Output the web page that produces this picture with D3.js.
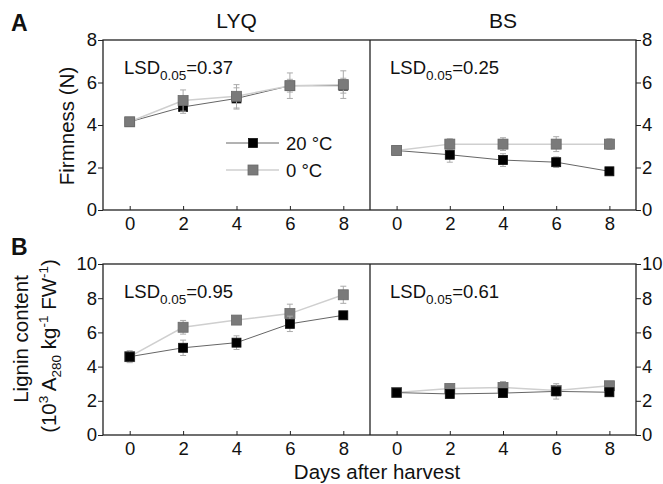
<!DOCTYPE html>
<html>
<head>
<meta charset="utf-8">
<script src="https://cdn.jsdelivr.net/npm/d3@7"></script>
<style>
  body { margin: 0; background: #fff; }
  svg { font-family: "Liberation Sans", Arial, sans-serif; }
  .axis path, .axis line { stroke: #222; }
  .axis text { font-size: 18.5px; fill: #111; font-family: "Liberation Sans", Arial, sans-serif; }
</style>
</head>
<body>
<svg id="chart" width="663" height="484"></svg>
<script>
// Data
const days = [0, 2, 4, 6, 8];
const cultivars = ["LYQ", "BS"];
const seriesNames = ["20 °C", "0 °C"];

const firmTicks = [0, 2, 4, 6, 8];
const ligninTicks = [0, 2, 4, 6, 8, 10];

const firmLSD = ["0.37", "0.25"];
const ligninLSD = ["0.95", "0.61"];

// Firmness (N)
const firmLYQ20 = [4.15, 4.85, 5.25, 5.85, 5.85];
const firmLYQ20Err = [0.1, 0.3, 0.5, 0.3, 0.35];
const firmLYQ0 = [4.15, 5.15, 5.35, 5.85, 5.9];
const firmLYQ0Err = [0.1, 0.5, 0.55, 0.6, 0.65];
const firmBS20 = [2.8, 2.6, 2.35, 2.25, 1.82];
const firmBS20Err = [0.15, 0.35, 0.3, 0.25, 0.1];
const firmBS0 = [2.8, 3.1, 3.1, 3.1, 3.1];
const firmBS0Err = [0.15, 0.25, 0.3, 0.35, 0.25];

// Lignin content
const ligLYQ20 = [4.58, 5.1, 5.4, 6.5, 7.0];
const ligLYQ20Err = [0.35, 0.45, 0.4, 0.45, 0.2];
const ligLYQ0 = [4.58, 6.3, 6.72, 7.1, 8.2];
const ligLYQ0Err = [0.3, 0.4, 0.2, 0.55, 0.5];
const ligBS20 = [2.48, 2.4, 2.45, 2.55, 2.5];
const ligBS20Err = [0.15, 0.2, 0.2, 0.45, 0.2];
const ligBS0 = [2.48, 2.72, 2.78, 2.6, 2.88];
const ligBS0Err = [0.15, 0.25, 0.35, 0.3, 0.2];

// Layout
const left = 103, mid = 370, right = 636;
const svg = d3.select("#chart");

const xLeft = d3.scaleLinear().domain([-1, 9]).range([left, mid]);
const xRight = d3.scaleLinear().domain([-1, 9]).range([mid, right]);

const styles = [
  { line: "#666", lw: 1, fill: "#000", stroke: "#111", size: 9 },
  { line: "#cfcfcf", lw: 1.5, fill: "#7a7a7a", stroke: "#6a6a6a", size: 10 }
];

function drawPanel(top, bottom, yMax, ticks, lsd, data, grayOnTop) {
  const y = d3.scaleLinear().domain([0, yMax]).range([bottom, top]);

  // frame
  svg.append("rect")
    .attr("x", left).attr("y", top)
    .attr("width", right - left).attr("height", bottom - top)
    .attr("fill", "none").attr("stroke", "#222").attr("stroke-width", 1.3);
  svg.append("line")
    .attr("x1", mid).attr("x2", mid).attr("y1", top).attr("y2", bottom)
    .attr("stroke", "#222").attr("stroke-width", 1.3);

  // axes
  [xLeft, xRight].forEach(x => {
    const gx = svg.append("g").attr("class", "axis")
      .attr("transform", `translate(0,${bottom})`)
      .call(d3.axisBottom(x).tickValues(days).tickSizeInner(-4).tickSizeOuter(0).tickPadding(7));
    gx.select(".domain").remove();
  });
  const gl = svg.append("g").attr("class", "axis")
    .attr("transform", `translate(${left},0)`)
    .call(d3.axisLeft(y).tickValues(ticks).tickSize(5).tickPadding(1));
  gl.select(".domain").remove();
  const gr = svg.append("g").attr("class", "axis")
    .attr("transform", `translate(${right},0)`)
    .call(d3.axisRight(y).tickValues(ticks).tickSize(5).tickPadding(1));
  gr.select(".domain").remove();

  // series per cultivar
  [xLeft, xRight].forEach((x, c) => {
    const order = grayOnTop ? [0, 1] : [1, 0];
    const g = svg.append("g");
    // lines
    order.forEach(s => {
      const vals = data[c][s].v;
      g.append("path")
        .datum(days.map((d, i) => [d, vals[i]]))
        .attr("fill", "none")
        .attr("stroke", styles[s].line)
        .attr("stroke-width", styles[s].lw)
        .attr("d", d3.line().x(d => x(d[0])).y(d => y(d[1])));
    });
    order.forEach(s => {
      const vals = data[c][s].v, errs = data[c][s].e, st = styles[s];
      days.forEach((d, i) => {
        const cx = x(d), y1 = y(vals[i] + errs[i]), y2 = y(vals[i] - errs[i]);
        g.append("line").attr("x1", cx).attr("x2", cx).attr("y1", y1).attr("y2", y2)
          .attr("stroke", "#aaa").attr("stroke-width", 1);
        [y1, y2].forEach(yy => g.append("line")
          .attr("x1", cx - 3).attr("x2", cx + 3).attr("y1", yy).attr("y2", yy)
          .attr("stroke", "#aaa").attr("stroke-width", 1));
        g.append("rect")
          .attr("x", cx - st.size / 2).attr("y", y(vals[i]) - st.size / 2)
          .attr("width", st.size).attr("height", st.size)
          .attr("fill", st.fill).attr("stroke", st.stroke).attr("stroke-width", 0.8);
      });
    });

    // LSD label
    const t = svg.append("text")
      .attr("x", x(-1) + (c === 0 ? 21 : 20)).attr("y", top + 34)
      .attr("font-size", 18.5).attr("fill", "#111");
    t.append("tspan").text("LSD");
    t.append("tspan").attr("dy", 6).attr("font-size", 13.5).text("0.05");
    t.append("tspan").attr("dy", -6).text("=" + lsd[c]);
  });
  return y;
}

drawPanel(40, 210, 8, firmTicks, firmLSD, [
  [{ v: firmLYQ20, e: firmLYQ20Err }, { v: firmLYQ0, e: firmLYQ0Err }],
  [{ v: firmBS20, e: firmBS20Err }, { v: firmBS0, e: firmBS0Err }]
], true);

drawPanel(264, 435, 10, ligninTicks, ligninLSD, [
  [{ v: ligLYQ20, e: ligLYQ20Err }, { v: ligLYQ0, e: ligLYQ0Err }],
  [{ v: ligBS20, e: ligBS20Err }, { v: ligBS0, e: ligBS0Err }]
], false);

// Cultivar titles
cultivars.forEach((name, i) => {
  const x = i === 0 ? xLeft : xRight;
  svg.append("text")
    .attr("x", x(4)).attr("y", 28)
    .attr("text-anchor", "middle").attr("font-size", 21).attr("fill", "#111")
    .text(name);
});

// Panel letters
svg.append("text").attr("x", 11).attr("y", 31)
  .attr("font-size", 23).attr("font-weight", "bold").attr("fill", "#111").text("A");
svg.append("text").attr("x", 11).attr("y", 255)
  .attr("font-size", 23).attr("font-weight", "bold").attr("fill", "#111").text("B");

// Y labels
svg.append("text")
  .attr("transform", "translate(74,126) rotate(-90)")
  .attr("text-anchor", "middle").attr("font-size", 20.5).attr("fill", "#111")
  .text("Firmness (N)");

svg.append("text")
  .attr("transform", "translate(28,339) rotate(-90)")
  .attr("text-anchor", "middle").attr("font-size", 20.5).attr("fill", "#111")
  .text("Lignin content");

const lab = svg.append("text")
  .attr("transform", "translate(56,346) rotate(-90)")
  .attr("text-anchor", "middle").attr("font-size", 20.5).attr("fill", "#111");
lab.append("tspan").text("(10");
lab.append("tspan").attr("dy", -8).attr("font-size", 13.5).text("3");
lab.append("tspan").attr("dy", 8).text(" A");
lab.append("tspan").attr("dy", 5).attr("font-size", 13.5).text("280");
lab.append("tspan").attr("dy", -5).text(" kg");
lab.append("tspan").attr("dy", -8).attr("font-size", 13.5).text("-1");
lab.append("tspan").attr("dy", 8).text(" FW");
lab.append("tspan").attr("dy", -8).attr("font-size", 13.5).text("-1");
lab.append("tspan").attr("dy", 8).text(")");

// X label
svg.append("text")
  .attr("x", 377).attr("y", 479)
  .attr("text-anchor", "middle").attr("font-size", 20.5).attr("fill", "#111")
  .text("Days after harvest");

// Legend
const legend = svg.append("g");
seriesNames.forEach((name, i) => {
  const yy = 143 + i * 27, st = styles[i];
  legend.append("line")
    .attr("x1", 226).attr("x2", 279).attr("y1", yy).attr("y2", yy)
    .attr("stroke", st.line).attr("stroke-width", st.lw);
  legend.append("rect")
    .attr("x", 253 - st.size / 2).attr("y", yy - st.size / 2)
    .attr("width", st.size).attr("height", st.size)
    .attr("fill", st.fill).attr("stroke", st.stroke).attr("stroke-width", 0.8);
  legend.append("text")
    .attr("x", 286).attr("y", yy + 6.5)
    .attr("font-size", 18.5).attr("fill", "#111")
    .text(name);
});
</script>
</body>
</html>
